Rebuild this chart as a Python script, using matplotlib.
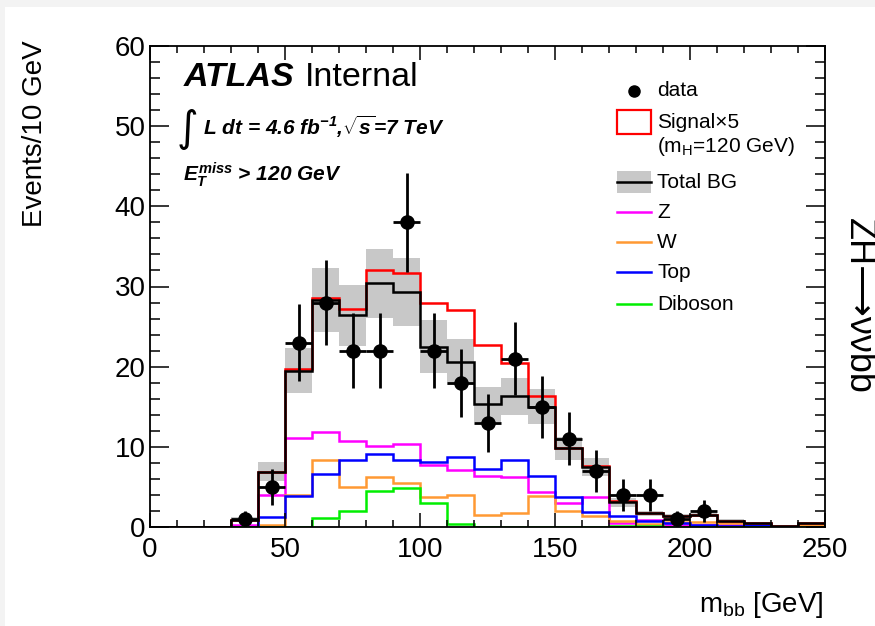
"""m_bb distribution, ZH -> vvbb selection (ATLAS style)"""

import matplotlib.pyplot as plt
import numpy as np
from matplotlib.patches import Rectangle
from matplotlib.lines import Line2D
from matplotlib.ticker import MultipleLocator

plt.rcParams['font.family'] = ['Liberation Sans', 'DejaVu Sans']
plt.rcParams['mathtext.fontset'] = 'custom'
plt.rcParams['mathtext.rm'] = 'Liberation Sans'
plt.rcParams['mathtext.it'] = 'Liberation Sans:italic:bold'
plt.rcParams['mathtext.bf'] = 'Liberation Sans:bold:italic'

# 10 GeV bins from 0 to 250 GeV
edges = np.arange(0, 260, 10)

data = [0, 0, 0, 1, 5, 23, 28, 22, 22, 38, 22, 18, 13, 21, 15, 11, 7, 4, 4, 1, 2, 0, 0, 0, 0]

total_bg = [0, 0, 0, 0.9, 6.9, 19.5, 28.3, 26.4, 30.4, 29.3, 22.5, 20.6, 15.3,
            16.3, 15.0, 9.8, 7.5, 3.1, 1.7, 1.4, 1.5, 0.8, 0.5, 0.15, 0.5]
total_bg_err = [0, 0, 0, 0.3, 1.2, 2.8, 4.0, 3.8, 4.3, 4.2, 3.3, 2.9, 2.2,
                2.3, 2.2, 1.4, 1.1, 0.55, 0.3, 0.2, 0.2, 0.15, 0.1, 0.05, 0.1]
signal_x5 = [0, 0, 0, 0, 0, 0.2, 0.3, 0.8, 1.6, 2.4, 5.4, 6.5, 7.4,
             4.1, 1.3, 0.1, 0.1, 0.1, 0, 0, 0, 0, 0, 0, 0]

bg_z = [0, 0, 0, 0.25, 4.0, 11.1, 11.9, 10.7, 10.1, 10.3, 7.7, 7.1, 6.3,
        6.2, 4.4, 3.0, 3.8, 0.5, 0.9, 0.25, 0.3, 0.2, 0.4, 0.05, 0.15]
bg_w = [0, 0, 0, 0, 0.3, 4.0, 8.4, 5.0, 6.2, 5.5, 3.8, 4.0, 1.5,
        1.7, 3.9, 2.0, 1.4, 0.8, 0.4, 0.6, 0.6, 0.45, 0.1, 0.05, 0.3]
bg_top = [0, 0, 0, 0, 1.3, 3.9, 6.6, 8.4, 9.1, 8.4, 8.1, 8.7, 7.2,
          8.3, 6.4, 3.7, 1.9, 1.4, 0.7, 0.45, 0.3, 0.1, 0.2, 0.05, 0.05]
bg_diboson = [0, 0, 0, 0, 0.05, 0.05, 1.1, 2.0, 4.5, 4.9, 3.0, 0.4, 0.05,
              0.05, 0.05, 0.05, 0.05, 0.1, 0.1, 0.05, 0.05, 0.05, 0.05, 0.05, 0.05]

total = np.array(total_bg)
err = np.array(total_bg_err)
n = np.array(data)
centers = 0.5 * (edges[:-1] + edges[1:])

fig = plt.figure(figsize=(8.75, 6.26), dpi=100)
fig.patch.set_facecolor('#f3f3f3')
fig.add_artist(Rectangle((5 / 875, 0), 1, 619 / 626, transform=fig.transFigure,
                         facecolor='white', edgecolor='none', zorder=-10))

ax = fig.add_axes([150 / 875, 1 - 527 / 626, 675 / 875, 481 / 626])

lw = 1.8
ax.stairs(total + err, edges, baseline=total - err, fill=True, color='#c8c8c8', lw=0)
ax.stairs(bg_z, edges, color='#ff00ff', lw=lw)
ax.stairs(bg_w, edges, color='#ff9933', lw=lw)
ax.stairs(bg_top, edges, color='#0000ff', lw=lw)
ax.stairs(bg_diboson, edges, color='#00ee00', lw=lw)
ax.stairs(total + np.array(signal_x5), edges, color='#ff0000', lw=lw)
ax.stairs(total, edges, color='black', lw=lw)

m = n > 0
ax.errorbar(centers[m], n[m], yerr=np.sqrt(n[m]), xerr=5, fmt='o', color='black',
            ms=9.5, elinewidth=2, capsize=0, zorder=5)

ax.set_xlim(0, 250)
ax.set_ylim(0, 60)
ax.xaxis.set_major_locator(MultipleLocator(50))
ax.xaxis.set_minor_locator(MultipleLocator(10))
ax.yaxis.set_major_locator(MultipleLocator(10))
ax.yaxis.set_minor_locator(MultipleLocator(2))
ax.tick_params(axis='both', which='both', direction='in', top=True, right=True,
               labelsize=20, width=1.1)
ax.tick_params(axis='x', which='major', length=10, pad=7)
ax.tick_params(axis='x', which='minor', length=5)
ax.tick_params(axis='y', which='major', length=14, pad=3)
ax.tick_params(axis='y', which='minor', length=7)
for s in ax.spines.values():
    s.set_linewidth(1.3)

fig.text(35 / 875, 1 - 40 / 626, 'Events/10 GeV', rotation=90, ha='center', va='top', fontsize=20)
fig.text(823 / 875, 1 - 605 / 626, r'm$_{\mathrm{bb}}$ [GeV]', ha='right', va='center', fontsize=20)
fig.text(841 / 875, 1 - 218 / 626, 'ZH\u27f6\u03bd\u03bdbb', rotation=270,
         ha='left', va='top', fontsize=26)

# labels in the top-left corner
tx = lambda px: (px - 150) / 675
ty = lambda py: (527 - py) / 481
ax.text(tx(184), ty(86), 'ATLAS', fontsize=24.5, fontweight='bold', fontstyle='italic',
        transform=ax.transAxes, va='baseline')
ax.text(tx(305), ty(86), 'Internal', fontsize=24.5, transform=ax.transAxes, va='baseline')
ax.text(tx(177), ty(129), '\u222b', fontsize=30, family=['DejaVu Sans'],
        transform=ax.transAxes, va='center')
ax.text(tx(203), ty(135), r'L dt = 4.6 fb$^{\mathbf{-1}}$,$\sqrt{s}$=7 TeV', fontsize=15,
        fontweight='bold', fontstyle='italic', transform=ax.transAxes, va='baseline')
ax.text(tx(183), ty(181), r'$E_{T}^{miss}$ > 120 GeV', fontsize=15,
        fontweight='bold', fontstyle='italic', transform=ax.transAxes, va='baseline')

# legend
hx0, hx1, lx = tx(617), tx(651), tx(657)
rows = {'data': 91, 'sig': 122, 'mh': 146, 'bg': 182, 'Z': 212, 'W': 242, 'Top': 272, 'Diboson': 304}
ax.add_line(Line2D([tx(634)], [ty(rows['data'])], marker='o', ms=8, color='black',
                   transform=ax.transAxes, clip_on=False))
ax.add_patch(Rectangle((hx0, ty(rows['sig']) - 0.024), hx1 - hx0, 0.048, transform=ax.transAxes,
                       facecolor='none', edgecolor='#ff0000', lw=1.6))
ax.add_patch(Rectangle((hx0, ty(rows['bg']) - 0.023), hx1 - hx0, 0.046, transform=ax.transAxes,
                       facecolor='#c8c8c8', edgecolor='none'))
ax.add_line(Line2D([hx0, hx1], [ty(rows['bg'])] * 2, color='black', lw=lw, transform=ax.transAxes))
for key, col in [('Z', '#ff00ff'), ('W', '#ff9933'), ('Top', '#0000ff'), ('Diboson', '#00ee00')]:
    ax.add_line(Line2D([hx0, hx1], [ty(rows[key])] * 2, color=col, lw=lw, transform=ax.transAxes))
labels = {'data': 'data', 'sig': 'Signal\u00d75', 'mh': r'(m$_{\mathrm{H}}$=120 GeV)',
          'bg': 'Total BG', 'Z': 'Z', 'W': 'W', 'Top': 'Top', 'Diboson': 'Diboson'}
for key, txt in labels.items():
    ax.text(lx, ty(rows[key]), txt, fontsize=15, transform=ax.transAxes, va='center')

fig.savefig('out.png', dpi=100)
